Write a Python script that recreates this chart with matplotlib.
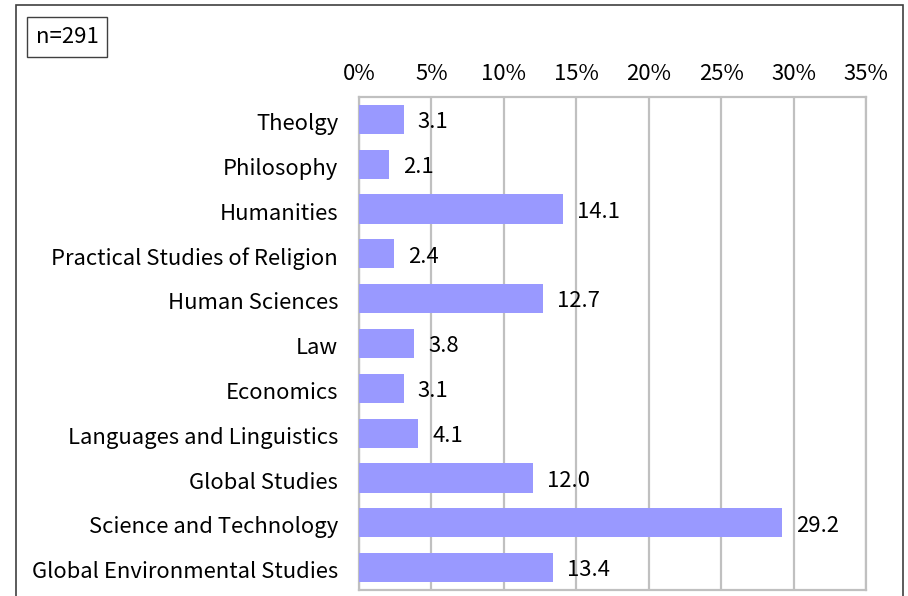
import matplotlib
matplotlib.use("Agg")
import matplotlib.pyplot as plt
import matplotlib.transforms as mtransforms
from matplotlib.patches import Rectangle

categories = ["Theolgy", "Philosophy", "Humanities", "Practical Studies of Religion",
              "Human Sciences", "Law", "Economics", "Languages and Linguistics",
              "Global Studies", "Science and Technology", "Global Environmental Studies"]
values = [3.1, 2.1, 14.1, 2.4, 12.7, 3.8, 3.1, 4.1, 12.0, 29.2, 13.4]
value_labels = ["3.1", "2.1", "14.1", "2.4", "12.7", "3.8", "3.1", "4.1", "12.0", "29.2", "13.4"]
xticks = [0, 5, 10, 15, 20, 25, 30, 35]
xtick_labels = ["0%", "5%", "10%", "15%", "20%", "25%", "30%", "35%"]
n_label = "n=291"

plt.rcParams['font.family'] = ['Noto Sans CJK JP', 'DejaVu Sans']
FS = 15.9

W, H = 908, 596
fig = plt.figure(figsize=(W / 100, H / 100), dpi=100)
ax = fig.add_axes([359 / W, 1 - 590 / H, (866 - 359) / W, (590 - 97) / H])

y = list(range(len(categories)))
ax.barh(y, values, height=0.65, color="#9999FF", zorder=3)
ax.set_ylim(len(categories) - 0.5, -0.5)
ax.set_xlim(0, 35)
ax.set_yticks(y)
ax.set_yticklabels(categories, fontsize=FS)
ax.set_xticks(xticks)
ax.set_xticklabels(xtick_labels, fontsize=FS)
ax.xaxis.tick_top()
ax.tick_params(axis="both", length=0)
ax.tick_params(axis="y", pad=15)
ax.tick_params(axis="x", pad=9)
ax.grid(axis="x", color="#C0C0C0", linewidth=1.6, zorder=0)
for s in ax.spines.values():
    s.set_color("#C0C0C0")
    s.set_linewidth(1.6)

shift = mtransforms.ScaledTranslation(0, -1.5 / 72, fig.dpi_scale_trans)
for t in ax.get_yticklabels():
    t.set_transform(t.get_transform() + shift)

for yi, v, lab in zip(y, values, value_labels):
    ax.annotate(lab, (v, yi), xytext=(10, -2), textcoords="offset points",
                va="center", ha="left", fontsize=FS, zorder=4)

# outer border
fig.patches.append(Rectangle((16 / W, -0.05), (903 - 16) / W, 1.05 - 5 / H,
                             transform=fig.transFigure, fill=False,
                             edgecolor="#404040", linewidth=1.2))
fig.text(67 / W, 1 - 37 / H, n_label, fontsize=FS, ha="center", va="center",
         bbox=dict(boxstyle="square,pad=0.4", facecolor="white", edgecolor="#404040", linewidth=1.0))

fig.savefig("out.png", dpi=100)
